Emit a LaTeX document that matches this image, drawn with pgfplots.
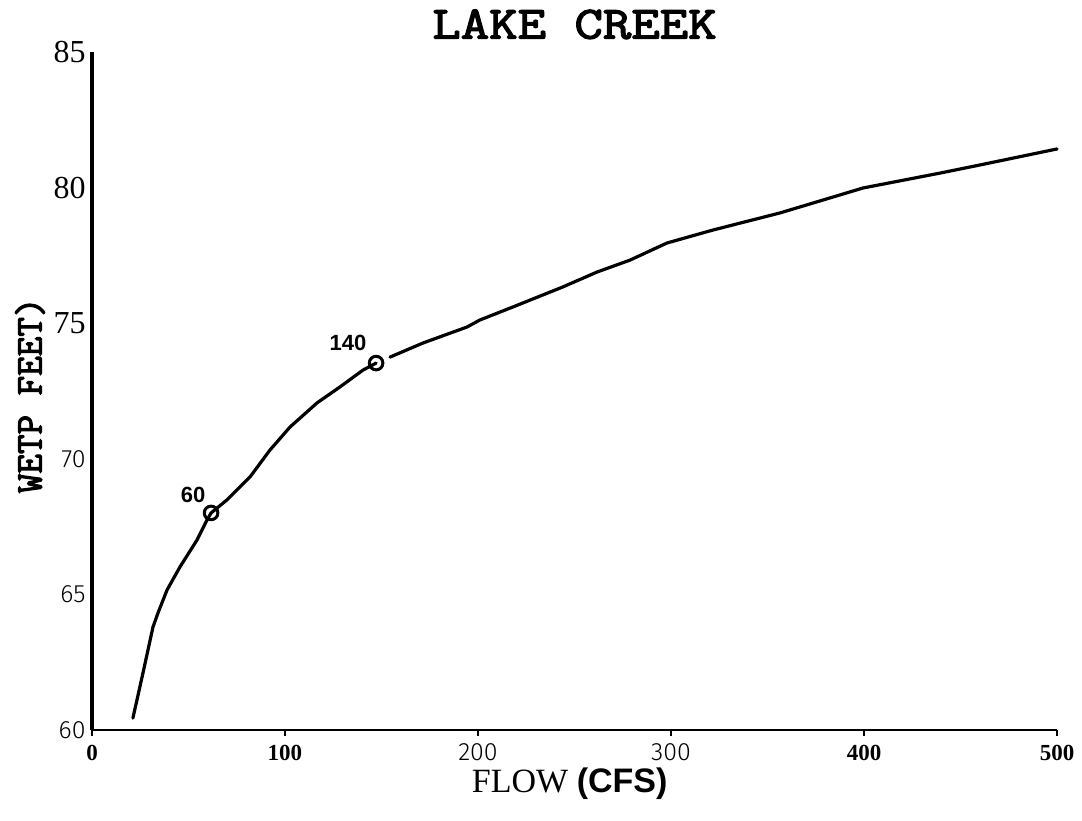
\documentclass[border=0pt]{standalone}
\usepackage{fontspec}
\setmainfont{Liberation Serif}
\newfontfamily\sans{Liberation Sans}
\newfontfamily\thin{Fira Sans Light}
\newfontfamily\bmono[FakeBold=3]{Latin Modern Mono}
\newfontfamily\wmono[FakeBold=3, FakeStretch=1.2]{Latin Modern Mono}
\usepackage{pgfplots}
\usepackage{pgfplotstable}
\pgfplotsset{compat=1.18}

% rating curve (flow in cfs, stage in feet)
\pgfplotstableread{
x y
21.2 60.44
26.4 62.10
31.6 63.80
34.2 64.32
38.9 65.17
45.6 66.02
54.4 67.01
59.6 67.75
61.7 68.01
69.9 68.49
81.9 69.34
92.2 70.33
102.6 71.18
116.6 72.07
128.5 72.66
140.4 73.28
147.2 73.54
}\lowerpart
\pgfplotstableread{
x y
154.4 73.76
171.5 74.28
194.3 74.87
201.0 75.13
218.1 75.61
244.0 76.35
261.7 76.90
278.8 77.34
297.9 77.97
321.8 78.45
356.5 79.08
399.5 80.00
439.4 80.55
460.1 80.85
500.0 81.44
}\upperpart

\newcommand\bs[1]{{\fontsize{11.5}{13}\selectfont\bfseries #1}}
\newcommand\ls[1]{{\fontsize{12.5}{14}\selectfont\thin #1}}
\newcommand\sr[1]{{\fontsize{16}{18}\selectfont #1}}

\begin{document}
\begin{tikzpicture}
\useasboundingbox (-46pt,-45pt) rectangle (495pt,365pt);
\begin{axis}[
    at={(0,0)}, anchor=south west,
    scale only axis, width=482.5pt, height=338.75pt,
    xmin=0, xmax=500, ymin=60, ymax=85,
    axis x line*=bottom, axis y line*=left,
    x axis line style={line width=1pt},
    y axis line style={line width=2pt},
    xtick={0,100,...,500},
    xticklabels={\bs{0},\bs{100},\ls{200},\ls{300},\bs{400},\bs{500}},
    ytick={60,65,...,85},
    yticklabels={\ls{60},\ls{65},\ls{70},\sr{75},\sr{80},\sr{85}},
    tick align=outside, major tick length=3pt,
    xtick style={line width=1pt, black},
    ytick style={draw=none},
    xticklabel style={anchor=base, yshift=-12pt},
    yticklabel style={anchor=east, inner sep=0pt, xshift=0pt},
    title={\wmono LAKE CREEK},
    title style={at={(0.5,1)}, anchor=base, yshift=1pt,
        font=\fontsize{23}{25}\selectfont},
    xlabel={FLOW {\sans\bfseries (CFS)}},
    xlabel style={at={(0.495,0)}, anchor=base, yshift=-31pt,
        font=\fontsize{17}{19}\selectfont},
    ylabel={\bmono WETP FEET)},
    ylabel style={at={(0,0.494)}, anchor=center, xshift=0pt, yshift=31pt,
        font=\fontsize{19}{21}\selectfont},
    clip=false,
]
\addplot[black, line width=1.6pt, line join=round, line cap=round] table {\lowerpart};
\addplot[black, line width=1.6pt, line join=round, line cap=round] table {\upperpart};
\addplot[only marks, mark=o, mark size=3.4pt, mark options={line width=1.5pt, fill=none},
    nodes near coords={60},
    every node near coord/.append style={anchor=center, xshift=-9pt, yshift=9pt,
        font=\fontsize{11}{12}\selectfont\sans\bfseries}]
    coordinates {(61.7,68.01)};
\addplot[only marks, mark=o, mark size=3.4pt, mark options={line width=1.5pt, fill=none},
    nodes near coords={140},
    every node near coord/.append style={anchor=center, xshift=-14pt, yshift=10pt,
        font=\fontsize{11}{12}\selectfont\sans\bfseries}]
    coordinates {(147.2,73.54)};
\end{axis}
\end{tikzpicture}
\end{document}
